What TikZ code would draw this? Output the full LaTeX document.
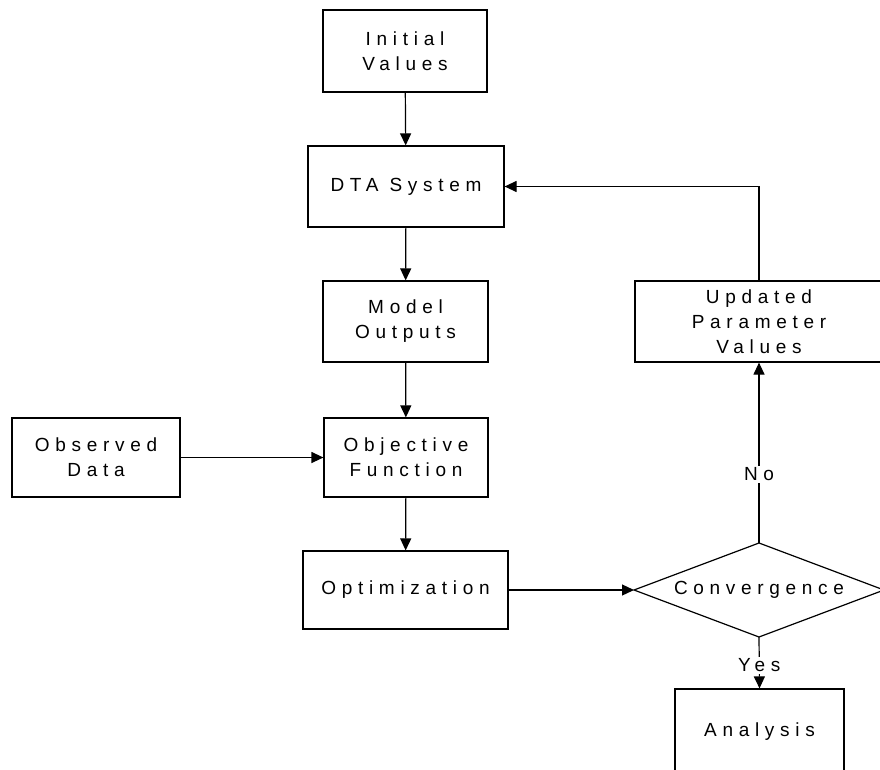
\documentclass[tikz,border=0pt]{standalone}
\usepackage{fontspec}
\setmainfont{Liberation Sans}[LetterSpace=30]
\usetikzlibrary{arrows.meta}
\begin{document}
\begin{tikzpicture}[x=1pt,y=-1pt,
  box/.style={draw, line width=1.2pt, inner sep=0pt, align=center, font=\fontsize{19}{25}\selectfont},
  txt/.style={inner sep=0pt, align=center, font=\fontsize{19}{25}\selectfont},
  arr/.style={line width=1.2pt, -{Triangle[length=12pt,width=11pt]}},
  edge/.style={line width=1.2pt},
  lbl/.style={fill=white, inner sep=2pt, font=\fontsize{19}{25}\selectfont}]
\useasboundingbox (0,0) rectangle (880,770);
\node[box, minimum width=164pt, minimum height=82pt] (init) at (405,51) {Initial\\Values};
\node[box, minimum width=196pt, minimum height=81pt] (dta) at (406,186.5) {DTA System};
\node[box, minimum width=165pt, minimum height=81pt] (model) at (405.5,321.5) {Model\\Outputs};
\node[box, minimum width=164pt, minimum height=79pt] (obj) at (406,457.5) {Objective\\Function};
\node[box, minimum width=168pt, minimum height=79pt] (obs) at (96,457.5) {Observed\\Data};
\node[box, minimum width=205pt, minimum height=78pt] (opt) at (405.5,590) {Optimization};
\node[box, minimum width=248pt, minimum height=81pt] (upd) at (759,321.5) {Updated\\Parameter\\Values};
\node[box, minimum width=169pt, minimum height=86pt] (ana) at (759.5,732) {Analysis};
% decision diamond
\coordinate (convC) at (759,590);
\coordinate (convL) at (634,590);
\coordinate (convR) at (884,590);
\coordinate (convT) at (759,543);
\coordinate (convB) at (759,637);
\draw[edge] (convL) -- (convT) -- (convR) -- (convB) -- cycle;
\node[txt] (conv) at (convC) {Convergence};
% connectors
\draw[arr] (init) -- (dta);
\draw[arr] (dta) -- (model);
\draw[arr] (model) -- (obj);
\draw[arr] (obs) -- (obj);
\draw[arr] (obj) -- (opt);
\draw[arr] (opt.east) -- (convL);
\draw[arr] (convT) -- node[lbl, pos=0.38] (no) {No} (upd.south);
\draw[arr] (convB) -- node[lbl, pos=0.55] (yes) {Yes} (ana.north);
\draw[arr] (upd.north) |- (dta.east);
\end{tikzpicture}
\end{document}
